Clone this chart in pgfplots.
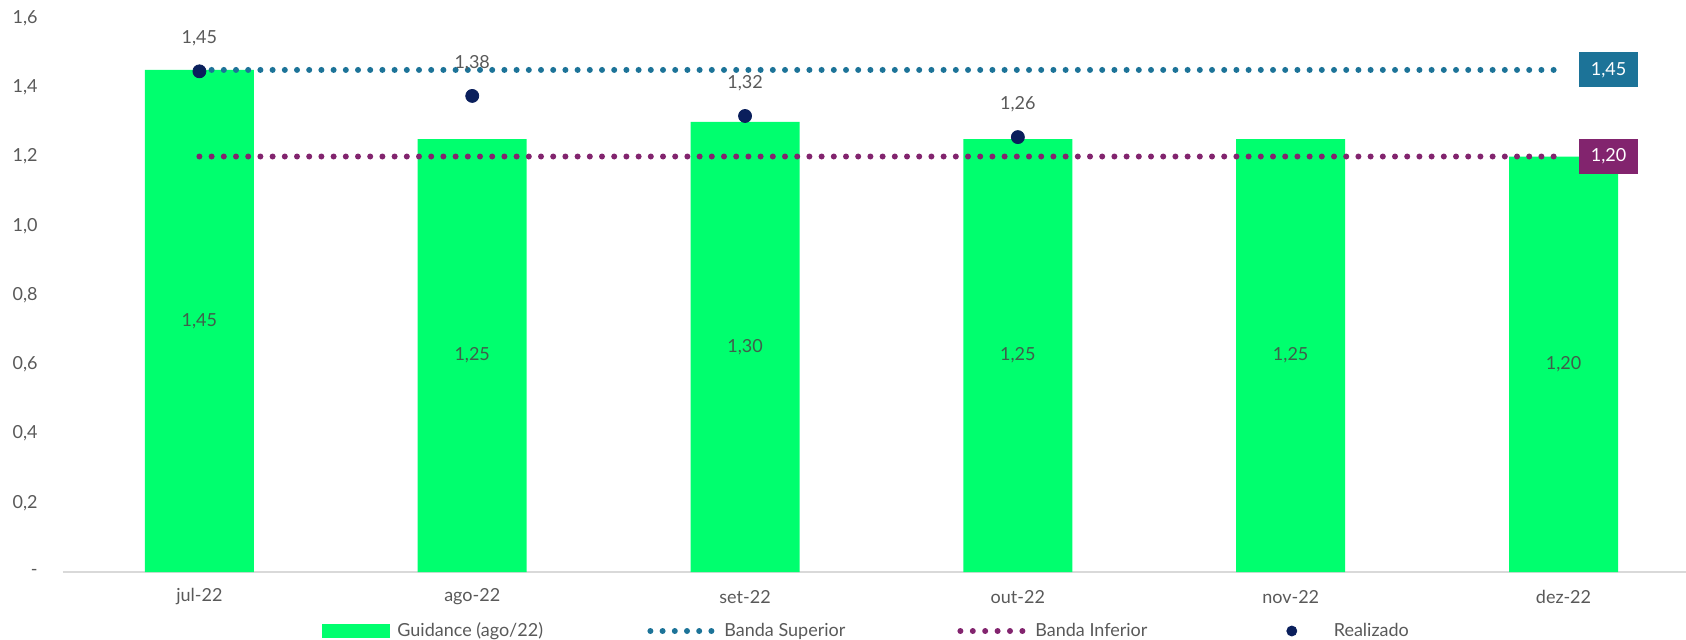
\documentclass[border=0pt]{standalone}
\usepackage{fontspec}
\setmainfont{Lato}
\usepackage{pgfplots}
\pgfplotsset{compat=1.18}
\usepackage{pgfplotstable}

\definecolor{guidgreen}{HTML}{00FF6E}
\definecolor{bandsup}{HTML}{1C7398}
\definecolor{bandinf}{HTML}{82246E}
\definecolor{realnavy}{HTML}{0A1F5C}
\definecolor{txtgrey}{HTML}{595959}
\definecolor{barlab}{HTML}{3F5F4B}
\definecolor{axisgrey}{HTML}{D9D9D9}

% guidance (ago/22), bars
\pgfplotstableread{
x guid lab
0 1.45 1,45
1 1.25 1,25
2 1.30 1,30
3 1.25 1,25
4 1.25 1,25
5 1.20 1,20
}\guidance

% realizado, points
\pgfplotstableread{
x real lab
0 1.446 1,45
1 1.375 1,38
2 1.317 1,32
3 1.256 1,26
}\realizado

\begin{document}
\begin{tikzpicture}[font=\fontsize{9}{11}\selectfont, text=txtgrey]
\useasboundingbox (-31.5pt,-33.5pt) rectangle (811.5pt,286pt);
\begin{axis}[
    at={(0pt,0pt)}, anchor=south west,
    scale only axis,
    width=811.5pt, height=277pt,
    xmin=-0.5, xmax=5.449,
    ymin=0, ymax=1.6,
    clip=false,
    axis x line*=bottom, axis y line*=left,
    x axis line style={draw=axisgrey, line width=1pt, -},
    y axis line style={draw=none},
    major tick length=0pt,
    xtick={0,1,2,3,4,5},
    xticklabels={jul-22,ago-22,set-22,out-22,nov-22,dez-22},
    ytick={0,0.2,0.4,0.6,0.8,1.0,1.2,1.4,1.6},
    yticklabels={-,{0,2},{0,4},{0,6},{0,8},{1,0},{1,2},{1,4},{1,6}},
    tick label style={font=\fontsize{9}{11}\selectfont, text=txtgrey, inner sep=0pt},
    xticklabel style={anchor=center, yshift=-12.5pt},
    yticklabel style={anchor=east, xshift=-12.5pt},
    legend columns=4,
    legend cell align=left,
    legend style={at={(axis description cs:0,0)}, anchor=west,
        xshift=129.5pt, yshift=-29.5pt, draw=none, fill=none,
        inner sep=0pt, column sep=0pt, row sep=0pt,
        font=\fontsize{9}{11}\selectfont, text=txtgrey,
        nodes={inner sep=0pt}},
]

\addplot[ybar, bar width=54.5pt, bar shift=0pt, fill=guidgreen, draw=none,
    legend image code/.code={
        \fill[guidgreen] (0pt,-3.5pt) rectangle (34pt,3.5pt);
        \path[draw=none, fill=none] (0pt,-3.5pt) rectangle (37.5pt,3.5pt);}]
    table[x=x, y=guid]{\guidance};
\addlegendentry{\makebox[125pt][l]{Guidance (ago/22)}}

% values in the middle of the bars
\addplot[draw=none, mark=none, forget plot,
    nodes near coords, point meta=explicit symbolic,
    every node near coord/.append style={anchor=center, text=barlab,
        font=\fontsize{9}{11}\selectfont}]
    table[x=x, y expr=\thisrow{guid}/2, meta=lab]{\guidance};

\addplot[bandsup, line width=3pt, line cap=round, dash pattern=on 0pt off 6.1pt,
    legend image code/.code={
        \draw[bandsup, line width=3pt, line cap=round, dash pattern=on 0pt off 6.1pt]
            (1.5pt,0pt) -- (32.1pt,0pt);
        \path[draw=none, fill=none] (0pt,-3.5pt) rectangle (38.5pt,3.5pt);}]
    coordinates {(0,1.45) (5,1.45)};
\addlegendentry{\makebox[116.5pt][l]{Banda Superior}}

\addplot[bandinf, line width=3pt, line cap=round, dash pattern=on 0pt off 6.1pt,
    legend image code/.code={
        \draw[bandinf, line width=3pt, line cap=round, dash pattern=on 0pt off 6.2pt]
            (1.5pt,0pt) -- (32.6pt,0pt);
        \path[draw=none, fill=none] (0pt,-3.5pt) rectangle (39pt,3.5pt);}]
    coordinates {(0,1.20) (5,1.20)};
\addlegendentry{\makebox[125.5pt][l]{Banda Inferior}}

\addplot[only marks, mark=*, mark size=3.25pt, color=realnavy, fill=realnavy,
    nodes near coords, point meta=explicit symbolic,
    every node near coord/.append style={anchor=center, yshift=16.5pt,
        text=txtgrey, font=\fontsize{9}{11}\selectfont},
    legend image code/.code={
        \fill[realnavy] (2.5pt,0pt) circle (2.5pt);
        \path[draw=none, fill=none] (0pt,-3.5pt) rectangle (23.5pt,3.5pt);}]
    table[x=x, y=real, meta=lab]{\realizado};
\addlegendentry{Realizado}

\node[fill=bandsup, text=white, minimum width=29.5pt, minimum height=17.5pt,
    inner sep=0pt] at (axis cs:5.165,1.45) {1,45};
\node[fill=bandinf, text=white, minimum width=29.5pt, minimum height=17.5pt,
    inner sep=0pt] at (axis cs:5.165,1.20) {1,20};
\end{axis}
\end{tikzpicture}
\end{document}
